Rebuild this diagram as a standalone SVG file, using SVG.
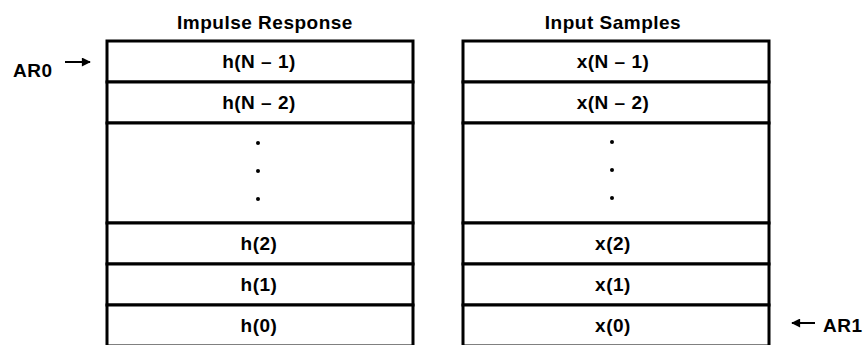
<svg xmlns="http://www.w3.org/2000/svg" width="868" height="345" viewBox="0 0 868 345">
<defs>
<style>
.cell{fill:#fff;stroke:#000;stroke-width:3}
.t{font-family:"Liberation Sans",Arial,sans-serif;font-weight:bold;font-size:19px;letter-spacing:0.5px;text-anchor:middle;fill:#000}
.lbl{font-family:"Liberation Sans",Arial,sans-serif;font-weight:bold;font-size:19px;letter-spacing:0.5px;fill:#000}
.dot{fill:#000}
.ptr{stroke:#000;stroke-width:2;fill:none}
</style>
<marker id="ah" viewBox="0 0 10 10" refX="9" refY="5" markerWidth="5" markerHeight="4.5" orient="auto" markerUnits="strokeWidth">
<path d="M0,0 L10,5 L0,10 z" fill="#000"/>
</marker>
</defs>
<rect width="868" height="345" fill="#fff"/>
<text class="t" x="265" y="29">Impulse Response</text>
<text class="t" x="613" y="29">Input Samples</text>

<g id="h-table">
<g id="hN1"><rect class="cell" x="107" y="41" width="306" height="41"/><text class="t" x="259" y="68">h(N – 1)</text></g>
<g id="hN2"><rect class="cell" x="107" y="82" width="306" height="41"/><text class="t" x="259" y="109">h(N – 2)</text></g>
<g id="hdots"><rect class="cell" x="107" y="123" width="306" height="100"/><circle class="dot" cx="258" cy="143" r="2"/><circle class="dot" cx="258" cy="171" r="2"/><circle class="dot" cx="258" cy="199" r="2"/></g>
<g id="h2"><rect class="cell" x="107" y="223" width="306" height="41"/><text class="t" x="259" y="250">h(2)</text></g>
<g id="h1"><rect class="cell" x="107" y="264" width="306" height="41"/><text class="t" x="259" y="291">h(1)</text></g>
<g id="h0"><rect class="cell" x="107" y="305" width="306" height="41"/><text class="t" x="259" y="332">h(0)</text></g>
</g>

<g id="x-table">
<g id="xN1"><rect class="cell" x="463" y="41" width="306" height="41"/><text class="t" x="613" y="68">x(N – 1)</text></g>
<g id="xN2"><rect class="cell" x="463" y="82" width="306" height="41"/><text class="t" x="613" y="109">x(N – 2)</text></g>
<g id="xdots"><rect class="cell" x="463" y="123" width="306" height="100"/><circle class="dot" cx="612" cy="142" r="2"/><circle class="dot" cx="612" cy="170" r="2"/><circle class="dot" cx="612" cy="198" r="2"/></g>
<g id="x2"><rect class="cell" x="463" y="223" width="306" height="41"/><text class="t" x="613" y="250">x(2)</text></g>
<g id="x1"><rect class="cell" x="463" y="264" width="306" height="41"/><text class="t" x="613" y="291">x(1)</text></g>
<g id="x0"><rect class="cell" x="463" y="305" width="306" height="41"/><text class="t" x="613" y="332">x(0)</text></g>
</g>

<g id="AR0"><text class="lbl" x="13" y="77">AR0</text></g>
<g id="AR1"><text class="lbl" x="823" y="332">AR1</text></g>

<g id="connectors">
<line class="ptr" x1="65" y1="62" x2="90" y2="62" marker-end="url(#ah)"/>
<line class="ptr" x1="815" y1="323" x2="792" y2="323" marker-end="url(#ah)"/>
</g>
</svg>
